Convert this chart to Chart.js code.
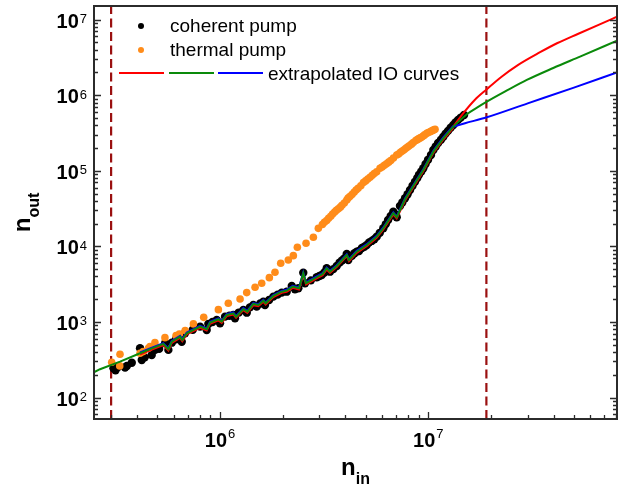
<!DOCTYPE html>
<html>
<head>
<meta charset="utf-8">
<script src="https://cdn.jsdelivr.net/npm/chart.js@4"></script>
<style>
  html, body { margin: 0; padding: 0; background: #fff; }
  canvas { display: block; }
</style>
</head>
<body>
<canvas id="chart" width="626" height="492"></canvas>
<script>
// coherent pump (black dots)
const coherentX = [3.08e5, 3.15e5, 3.25e5, 3.5e5, 3.57e5, 3.77e5, 4.13e5, 4.21e5, 4.35e5, 4.70e5,
  4.88e5, 5.1e5, 5.45e5, 5.65e5, 5.87e5, 6.15e5, 6.43e5, 6.55e5, 6.79e5, 7.4e5,
  8.02e5, 8.63e5, 8.79e5, 9.2e5, 9.64e5, 1.0e6, 1.057e6, 1.11e6, 1.158e6, 1.18e6,
  1.23e6, 1.294e6, 1.344e6, 1.39e6, 1.445e6, 1.5e6, 1.56e6, 1.614e6, 1.644e6, 1.72e6,
  1.803e6, 1.89e6, 1.978e6, 2.09e6, 2.21e6, 2.29e6, 2.377e6, 2.51e6, 2.559e6, 2.73e6,
  2.912e6, 3.0e6, 3.078e6, 3.17e6, 3.252e6, 3.373e6, 3.5e6, 3.633e6, 3.75e6, 3.85e6,
  3.95e6, 4.058e6, 4.13e6, 4.3e6, 4.42e6, 4.532e6, 4.65e6, 4.8e6, 4.93e6, 5.062e6,
  5.2e6, 5.35e6, 5.5e6, 5.653e6, 5.85e6, 6.08e6, 6.25e6, 6.41e6, 6.6e6, 6.79e6,
  6.95e6, 7.05e6, 7.31e6, 7.5e6, 7.73e6, 7.95e6, 8.17e6, 8.4e6, 8.63e6, 8.85e6,
  9.02e6, 9.25e6, 9.46e6, 9.7e6, 9.97e6, 1.03e7, 1.057e7, 1.085e7, 1.114e7, 1.15e7,
  1.18e7, 1.21e7, 1.243e7, 1.28e7, 1.318e7, 1.35e7, 1.389e7, 1.43e7, 1.484e7];
const coherentY = [244, 230, 256, 250, 262, 289, 449, 314, 340, 366,
  427, 440, 523, 427, 532, 590, 639, 548, 709, 790,
  867, 784, 941, 1000, 1063, 961, 1175, 1210, 1238, 1119,
  1330, 1441, 1327, 1560, 1679, 1594, 1750, 1856, 1679, 1950,
  2161, 2300, 2441, 2516, 2995, 2700, 2791, 4487, 3251, 3550,
  3902, 4050, 4185, 4500, 5132, 4627, 5000, 5505, 6100, 6500,
  6900, 7934, 6607, 7500, 8100, 8511, 8700, 9500, 9900, 10430,
  11300, 11800, 12400, 13440, 15100, 17350, 19700, 22330, 25300, 28770,
  26500, 24270, 34200, 38000, 43250, 49000, 55700, 63500, 71770, 80000,
  88500, 98000, 1.079e5, 1.23e5, 1.40e5, 1.62e5, 1.884e5, 2.1e5, 2.33e5, 2.57e5,
  2.824e5, 3.1e5, 3.37e5, 3.7e5, 4.035e5, 4.35e5, 4.71e5, 5.05e5, 5.47e5];

// thermal pump (orange dots)
const thermalX = [3.02e5, 3.3e5, 3.31e5, 4.13e5, 4.28e5, 4.53e5, 4.61e5, 4.87e5, 5.44e5, 6.15e5,
  6.38e5, 6.80e5, 7.45e5, 8.35e5, 9.82e5, 1.096e6, 1.248e6, 1.343e6, 1.473e6, 1.585e6,
  1.725e6, 1.836e6, 1.956e6, 2.127e6, 2.249e6, 2.351e6, 2.588e6, 2.806e6, 2.965e6, 3.1e6,
  3.17e6, 3.25e6, 3.32e6, 3.4e6, 3.47e6, 3.55e6, 3.62e6, 3.7e6, 3.78e6, 3.85e6,
  3.95e6, 4.06e6, 4.12e6, 4.2e6, 4.3e6, 4.4e6, 4.5e6, 4.6e6, 4.74e6, 4.88e6,
  5.0e6, 5.12e6, 5.25e6, 5.38e6, 5.5e6, 5.65e6, 5.86e6, 6.0e6, 6.15e6, 6.3e6,
  6.45e6, 6.6e6, 6.8e6, 7.05e6, 7.2e6, 7.35e6, 7.5e6, 7.65e6, 7.8e6, 7.95e6,
  8.1e6, 8.3e6, 8.47e6, 8.7e6, 8.85e6, 9.0e6, 9.15e6, 9.3e6, 9.45e6, 9.6e6,
  9.83e6, 1.0e7, 1.02e7, 1.035e7, 1.05e7, 1.065e7, 1.077e7];
const thermalY = [293, 262, 374, 385, 405, 449, 471, 532, 620, 659,
  693, 768, 942, 1150, 1455, 1766, 2014, 2443, 2880, 3250,
  3855, 4540, 5970, 6600, 7530, 9730, 11000, 13200, 17300, 19500,
  20800, 22000, 23500, 25000, 26800, 28500, 30000, 31500, 33000, 35000,
  37500, 41100, 43500, 45500, 48500, 52000, 55500, 58500, 63500, 69700,
  73500, 78000, 82000, 87000, 92000, 97000, 108000, 112000, 118000, 124000,
  130000, 137000, 147000, 162000, 167000, 176000, 183000, 190000, 198000, 206000,
  214000, 225000, 236000, 252000, 258000, 266000, 272000, 280000, 289000, 298000,
  313000, 320000, 328000, 335000, 342000, 348000, 354000];

// IO curves: part shared by all three fits
const ioX = [4.13e5, 4.61e5, 5.34e5, 5.65e5, 5.865e5, 6.43e5, 6.59e5, 6.92e5, 8.02e5, 8.63e5,
  8.95e5, 9.82e5, 1.019e6, 1.077e6, 1.158e6, 1.194e6, 1.294e6, 1.352e6, 1.445e6, 1.527e6,
  1.614e6, 1.656e6, 1.803e6, 1.978e6, 2.09e6, 2.233e6, 2.394e6, 2.51e6, 2.588e6, 2.912e6,
  3.11e6, 3.252e6, 3.373e6, 3.633e6, 4.058e6, 4.16e6, 4.532e6, 5.062e6, 5.653e6, 6.08e6,
  6.79e6, 7.05e6, 7.73e6, 8.63e6, 9.46e6, 1.057e7, 1.18e7, 1.318e7];
const ioY = [385, 436, 512, 436, 549, 639, 578, 709, 867, 801,
  980, 1086, 1009, 1238, 1303, 1175, 1486, 1369, 1730, 1679,
  1914, 1766, 2209, 2516, 2595, 2931, 2791, 4406, 3251, 3902,
  4315, 5132, 4627, 5505, 7690, 6607, 8511, 10430, 13440, 17350,
  27420, 24270, 41980, 68390, 1.025e5, 1.79e5, 2.69e5, 3.83e5];

// green curve continues to the left edge
const greenHeadX = [2.48e5, 2.654e5, 3.31e5];
const greenHeadY = [216, 237, 298];

// extrapolated tails (start at the last shared point)
const redTailX = [1.318e7, 1.47e7, 1.67e7, 1.91e7, 2.24e7, 2.69e7, 3.44e7, 4.17e7, 5.25e7, 6.61e7, 8.05e7];
const redTailY = [3.83e5, 5.75e5, 8.65e5, 1.2e6, 1.74e6, 2.5e6, 3.7e6, 4.9e6, 6.5e6, 8.6e6, 1.09e7];
const greenTailX = [1.318e7, 1.53e7, 1.72e7, 1.91e7, 2.34e7, 2.97e7, 3.98e7, 5.35e7, 8.05e7];
const greenTailY = [3.83e5, 5.6e5, 6.9e5, 8.2e5, 1.12e6, 1.59e6, 2.29e6, 3.24e6, 5.25e6];
const blueTailX = [1.318e7, 1.5e7, 1.91e7, 3.0e7, 5.0e7, 8.05e7];
const blueTailY = [3.83e5, 4.25e5, 5.1e5, 7.8e5, 1.26e6, 2.0e6];

// vertical dashed markers
const markerX = [3.0e5, 1.9e7];

// axes
const xMin = 2.483e5, xMax = 8.05e7;
const yMin = 52, yMax = 1.513e7;
const xDecades = [6, 7];
const yDecades = [2, 3, 4, 5, 6, 7];

function pts(xs, ys) {
  return xs.map((v, i) => ({ x: v, y: ys[i] }));
}

const FONT = '"Liberation Sans", Arial, sans-serif';

// frame, inward ticks, labels, titles and legend
const axisDeco = {
  id: 'axisDeco',
  beforeDatasetDraw(chart, args) {
    const ds = chart.data.datasets[args.index];
    if (ds.shiftY) { chart.ctx.save(); chart.ctx.translate(0, ds.shiftY); }
  },
  afterDatasetDraw(chart, args) {
    const ds = chart.data.datasets[args.index];
    if (ds.shiftY) chart.ctx.restore();
  },
  afterDraw(chart) {
    const { ctx, chartArea: a } = chart;
    const sx = chart.scales.x, sy = chart.scales.y;
    ctx.save();

    // ticks
    ctx.strokeStyle = '#2b2b2b';
    ctx.lineWidth = 1.3;
    for (let d = 1; d <= 8; d++) {
      for (let m = 1; m <= 9; m++) {
        const v = m * Math.pow(10, d);
        const len = m === 1 ? 7 : 4;
        if (v >= yMin && v <= yMax) {
          const py = Math.round(sy.getPixelForValue(v)) + 0.5;
          ctx.beginPath();
          ctx.moveTo(a.left, py); ctx.lineTo(a.left + len, py);
          ctx.moveTo(a.right, py); ctx.lineTo(a.right - len, py);
          ctx.stroke();
        }
        if (v >= xMin && v <= xMax) {
          const px = Math.round(sx.getPixelForValue(v)) + 0.5;
          ctx.beginPath();
          ctx.moveTo(px, a.bottom); ctx.lineTo(px, a.bottom - len);
          ctx.stroke();
        }
      }
    }

    // frame
    ctx.lineWidth = 2;
    ctx.strokeRect(a.left, a.top, a.right - a.left, a.bottom - a.top);

    // tick labels
    ctx.fillStyle = '#000';
    ctx.textBaseline = 'alphabetic';
    const bigF = 'bold 20px ' + FONT, supF = '13px ' + FONT;
    xDecades.forEach(d => {
      const px = sx.getPixelForValue(Math.pow(10, d));
      ctx.font = bigF; const w1 = ctx.measureText('10').width;
      ctx.font = supF; const w2 = ctx.measureText(String(d)).width;
      const x0 = px - (w1 + w2 + 1) / 2;
      ctx.font = bigF; ctx.textAlign = 'left'; ctx.fillText('10', x0, 447);
      ctx.font = supF; ctx.fillText(String(d), x0 + w1 + 1, 438);
    });
    yDecades.forEach(d => {
      const py = sy.getPixelForValue(Math.pow(10, d));
      ctx.font = supF; const w2 = ctx.measureText(String(d)).width;
      ctx.textAlign = 'right';
      ctx.fillText(String(d), 87, py + 3.5);
      ctx.font = bigF;
      ctx.fillText('10', 87 - w2 - 1, py + 8);
    });

    // axis titles
    const tBig = 'bold 24px ' + FONT, tSub = 'bold 16px ' + FONT;
    ctx.textAlign = 'left';
    ctx.font = tBig; let wn = ctx.measureText('n').width;
    ctx.font = tSub; let ws = ctx.measureText('in').width;
    let x0 = (a.left + a.right) / 2 - (wn + ws) / 2;
    ctx.font = tBig; ctx.fillText('n', x0, 475);
    ctx.font = tSub; ctx.fillText('in', x0 + wn, 484);

    ctx.save();
    ctx.translate(30, (a.top + a.bottom) / 2);
    ctx.rotate(-Math.PI / 2);
    ctx.font = tSub; ws = ctx.measureText('out').width;
    x0 = -(wn + ws) / 2;
    ctx.font = tBig; ctx.fillText('n', x0, 0);
    ctx.font = tSub; ctx.fillText('out', x0 + wn, 9);
    ctx.restore();

    // legend
    ctx.font = '19px ' + FONT;
    ctx.fillStyle = '#000';
    ctx.beginPath(); ctx.arc(141, 26, 3, 0, Math.PI * 2); ctx.fill();
    ctx.fillText('coherent pump', 170, 32);
    ctx.fillStyle = '#ff8c1a';
    ctx.beginPath(); ctx.arc(141, 50, 3, 0, Math.PI * 2); ctx.fill();
    ctx.fillStyle = '#000';
    ctx.fillText('thermal pump', 170, 56);
    ctx.lineWidth = 2;
    [['#ff0000', 119, 164], ['#0a8a0a', 169, 214], ['#0000ff', 218, 263]].forEach(([c, l, r]) => {
      ctx.strokeStyle = c;
      ctx.beginPath(); ctx.moveTo(l, 73); ctx.lineTo(r, 73); ctx.stroke();
    });
    ctx.fillText('extrapolated IO curves', 268, 80);

    ctx.restore();
  }
};

const lineStyle = { showLine: true, pointRadius: 0, borderWidth: 2, tension: 0, fill: false };
const tailStyle = { showLine: true, pointRadius: 0, borderWidth: 2, cubicInterpolationMode: 'monotone', fill: false };

const datasets = [
  Object.assign({ label: 'green', data: pts(greenHeadX.concat(ioX), greenHeadY.concat(ioY)),
    borderColor: '#0a8a0a', order: 0 }, lineStyle),
  Object.assign({ label: 'green tail', data: pts(greenTailX, greenTailY),
    borderColor: '#0a8a0a', order: 0 }, tailStyle),
  Object.assign({ label: 'blue', data: pts(ioX, ioY),
    borderColor: '#0000ff', order: 1, shiftY: -0.8 }, lineStyle),
  Object.assign({ label: 'blue tail', data: pts(blueTailX, blueTailY),
    borderColor: '#0000ff', order: 1 }, tailStyle),
  Object.assign({ label: 'red', data: pts(ioX, ioY),
    borderColor: '#ff0000', order: 2, shiftY: 1.2 }, lineStyle),
  Object.assign({ label: 'red tail', data: pts(redTailX, redTailY),
    borderColor: '#ff0000', order: 2 }, tailStyle),
  { label: 'thermal pump', data: pts(thermalX, thermalY), backgroundColor: '#ff8c1a',
    borderWidth: 0, pointRadius: 3.8, order: 3 },
  { label: 'coherent pump', data: pts(coherentX, coherentY), backgroundColor: '#000',
    borderWidth: 0, pointRadius: 4.2, order: 4 }
];
markerX.forEach((mx, i) => {
  datasets.push({ label: 'marker' + i, data: [{ x: mx, y: yMin }, { x: mx, y: yMax }],
    showLine: true, pointRadius: 0, borderWidth: 2.2, borderColor: '#9a1010',
    borderDash: [9, 4.5], order: 5 });
});

new Chart(document.getElementById('chart').getContext('2d'), {
  type: 'scatter',
  data: { datasets },
  options: {
    responsive: false,
    animation: false,
    devicePixelRatio: 1,
    layout: { padding: { left: 94, top: 6, right: 9, bottom: 73 } },
    plugins: { legend: { display: false }, tooltip: { enabled: false } },
    scales: {
      x: { type: 'logarithmic', min: xMin, max: xMax, display: false },
      y: { type: 'logarithmic', min: yMin, max: yMax, display: false }
    }
  },
  plugins: [axisDeco]
});
</script>
</body>
</html>
